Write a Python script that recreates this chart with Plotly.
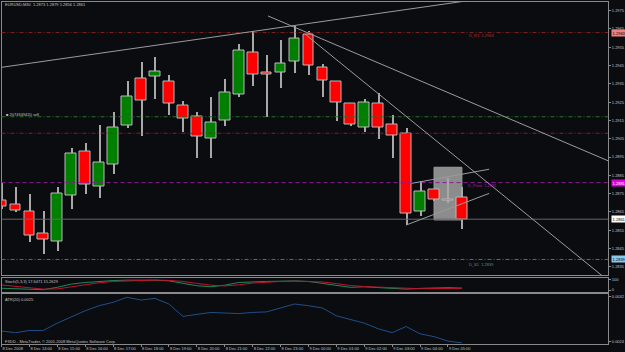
import plotly.graph_objects as go

# ---------------- data ----------------
bar_index = list(range(34))
open_ = [1.2871, 1.2869, 1.2865, 1.2853, 1.2849, 1.2874, 1.2898, 1.2879, 1.2891, 1.2912,
         1.2938, 1.2939, 1.2936, 1.2923, 1.2917, 1.2905, 1.2915, 1.2929, 1.2952, 1.2941,
         1.2941, 1.2947, 1.2962, 1.2944, 1.2936, 1.2924, 1.2911, 1.2924, 1.2913, 1.2908,
         1.2865, 1.2877, 1.2871, 1.2873]
high = [1.2881, 1.2879, 1.2875, 1.2866, 1.2879, 1.2900, 1.2903, 1.2913, 1.2920, 1.2937,
        1.2947, 1.2950, 1.2940, 1.2926, 1.2920, 1.2928, 1.2938, 1.2957, 1.2964, 1.2951,
        1.2959, 1.2967, 1.2964, 1.2946, 1.2937, 1.2925, 1.2927, 1.2930, 1.2918, 1.2911,
        1.2882, 1.2878, 1.2884, 1.2879]
low = [1.2867, 1.2865, 1.2849, 1.2842, 1.2844, 1.2867, 1.2875, 1.2873, 1.2886, 1.2911,
       1.2907, 1.2927, 1.2918, 1.2909, 1.2895, 1.2895, 1.2912, 1.2928, 1.2934, 1.2917,
       1.2933, 1.2941, 1.2940, 1.2928, 1.2915, 1.2912, 1.2909, 1.2905, 1.2895, 1.2858,
       1.2863, 1.2871, 1.2870, 1.2856]
close = [1.2868, 1.2866, 1.2852, 1.2850, 1.2875, 1.2897, 1.2880, 1.2892, 1.2911, 1.2928,
         1.2926, 1.2942, 1.2924, 1.2916, 1.2906, 1.2914, 1.2930, 1.2953, 1.2940, 1.2940,
         1.2946, 1.2960, 1.2945, 1.2937, 1.2925, 1.2913, 1.2925, 1.2911, 1.2907, 1.2864,
         1.2876, 1.2872, 1.2872, 1.2861]

stoch_main = [16, 10, 5, 3, 25, 55, 70, 80, 88, 92, 95, 92, 85, 65, 40, 30, 45, 70, 78, 80,
              82, 85, 80, 60, 40, 25, 30, 22, 18, 8, 15, 20, 22, 17.6471]
stoch_signal = [47, 35, 20, 8, 10, 30, 50, 68, 80, 86, 90, 92, 90, 80, 62, 45, 38, 48, 65, 76,
                80, 82, 82, 75, 60, 42, 32, 26, 22, 16, 12, 14, 18, 15.2629]
atr = [0.00259, 0.00256, 0.00260, 0.00260, 0.00273, 0.00284, 0.00295, 0.00304, 0.00310, 0.00319,
       0.00314, 0.00317, 0.00307, 0.00285, 0.00289, 0.00292, 0.00291, 0.00290, 0.00292, 0.00293,
       0.00300, 0.00307, 0.00304, 0.00300, 0.00286, 0.00279, 0.00273, 0.00263, 0.00256, 0.00267,
       0.00254, 0.00249, 0.00241, 0.00238]

time_tick_index = [0, 2, 4, 6, 8, 10, 12, 14, 16, 18, 20, 22, 24, 26, 28, 30, 32]
time_tick_text = ["8 Dec 2008", "8 Dec 14:00", "8 Dec 15:00", "8 Dec 16:00", "8 Dec 17:00",
                  "8 Dec 18:00", "8 Dec 19:00", "8 Dec 20:00", "8 Dec 21:00", "8 Dec 22:00",
                  "8 Dec 23:00", "9 Dec 00:00", "9 Dec 01:00", "9 Dec 02:00", "9 Dec 03:00",
                  "9 Dec 04:00", "9 Dec 05:00"]
price_ticks = [1.2835, 1.2845, 1.2855, 1.2865, 1.2875, 1.2885, 1.2895, 1.2905, 1.2915,
               1.2925, 1.2935, 1.2945, 1.2955, 1.2965, 1.2975]

level_r1 = 1.2963
level_order = 1.2917
level_sl = 1.2908
level_pivot = 1.2881
level_bid = 1.2861
level_s1 = 1.2839

# trend lines: (bar index, price) pairs
trend_lines = [
    ((-0.11, 1.29439), (33.58, 1.29806)),
    ((19.10, 1.29721), (45.00, 1.28880)),
    ((21.75, 1.29622), (45.00, 1.28180)),
    ((29.40, 1.28806), (34.95, 1.28883)),
    ((29.00, 1.28578), (34.95, 1.28751)),
]
rect_box = ((31.0, 1.28894), (33.0, 1.28606))

# ---------------- figure ----------------
W, H = 625, 352
BG = "#0a0c10"
FRAME = "#8a8a8a"
TXT = "#c4c4c4"
FONT = "Liberation Sans"
FS = 4
DASHDOT = "4px,2px,1px,2px"


def py(p):  # pixel row -> paper y
    return 1 - p / H


def px(p):
    return p / W


fig = go.Figure()

# wicks
fig.add_trace(go.Bar(
    x=bar_index, y=[h - l for h, l in zip(high, low)], base=low,
    width=0.075, marker=dict(color="#a8a8a8", line=dict(width=0)),
    xaxis="x", yaxis="y", showlegend=False, hoverinfo="skip"))
# bodies
body_base = [min(o, c) for o, c in zip(open_, close)]
body_h = [max(abs(c - o), 0.00004) for o, c in zip(open_, close)]
body_col = ["#008000" if c > o else "#ff0000" for o, c in zip(open_, close)]
fig.add_trace(go.Bar(
    x=bar_index, y=body_h, base=body_base, width=0.77,
    marker=dict(color=body_col, line=dict(width=1, color="#b8b8b8")),
    xaxis="x", yaxis="y", showlegend=False, hoverinfo="skip"))

# stochastic
fig.add_trace(go.Scatter(x=bar_index, y=stoch_main, mode="lines",
                         line=dict(color="#1f8a5c", width=1), xaxis="x2", yaxis="y2",
                         showlegend=False))
fig.add_trace(go.Scatter(x=bar_index, y=stoch_signal, mode="lines",
                         line=dict(color="#c0142c", width=1), xaxis="x2", yaxis="y2",
                         showlegend=False))
# ATR
fig.add_trace(go.Scatter(x=bar_index, y=atr, mode="lines",
                         line=dict(color="#1f4f8a", width=1), xaxis="x3", yaxis="y3",
                         showlegend=False))

shapes = []
shapes.append(dict(type="rect", xref="x", yref="y", layer="below",
                   x0=rect_box[0][0], x1=rect_box[1][0], y0=rect_box[0][1], y1=rect_box[1][1],
                   fillcolor="#8c8c8c", line=dict(color="#9a9a9a", width=1)))


def hline(y, color, dash, width=1):
    shapes.append(dict(type="line", xref="x domain", yref="y", x0=0, x1=1, y0=y, y1=y,
                       line=dict(color=color, dash=dash, width=width)))


hline(level_r1, "#862222", DASHDOT)
hline(level_order, "#2a702a", DASHDOT)
hline(level_sl, "#862222", DASHDOT)
hline(level_pivot, "#8e1c96", "4px,3px")
hline(level_bid, "#666666", "solid")
hline(level_s1, "#3a7896", DASHDOT)

for (a, b) in trend_lines:
    shapes.append(dict(type="line", xref="x", yref="y", x0=a[0], y0=a[1], x1=b[0], y1=b[1],
                       line=dict(color="#9c9c9c", width=1)))

annotations = []


def text(x, y, s, color=TXT, size=FS, anchor="left"):
    annotations.append(dict(x=x, y=y, xref="paper", yref="paper", text=s, showarrow=False,
                            xanchor=anchor, yanchor="middle",
                            font=dict(family=FONT, size=size, color=color)))


text(px(3), py(4.8), "EURUSD,M30  1.2873 1.2879 1.2856 1.2861")
text(px(3), py(281.5), "Stoch(5,3,3) 17.6471 15.2629")
text(px(3), py(299), "ATR(20) 0.0025")
text(px(3), py(341), "FXDD - MetaTrader, © 2001-2008 MetaQuotes Software Corp.")
text(px(4), py(114.8), "■ 2074949420 sell")
text(px(467), py(35.6), "D_R1  1.2963", color="#b03a3a")
text(px(466), py(185.5), "D_Pivot  1.2881", color="#b020b8")
text(px(467), py(264.5), "D_S1  1.2839", color="#4a90b0")


def tag(price, s, bg, fg="#000000"):
    annotations.append(dict(x=px(610.5), y=price, xref="paper", yref="y", text=s,
                            showarrow=False, xanchor="left", yanchor="middle",
                            bgcolor=bg, borderpad=0.6,
                            font=dict(family=FONT, size=FS, color=fg)))


tag(level_r1, "1.2963", "#f08080")
tag(level_pivot, "1.2881", "#e000e0", "#ffffff")
tag(level_bid, "1.2861", "#ffffff")
tag(level_s1, "1.2839", "#87c8f0")

xdom = [px(1.5), px(608)]
xr = [0, 43.47]
axis_common = dict(showgrid=False, zeroline=False, showline=True, linecolor=FRAME,
                   linewidth=1, mirror=True,
                   tickfont=dict(family=FONT, size=FS, color=TXT))

fig.update_layout(
    width=W, height=H, margin=dict(l=0, r=0, t=0, b=0),
    paper_bgcolor=BG, plot_bgcolor=BG, barmode="overlay", bargap=0,
    showlegend=False, shapes=shapes, annotations=annotations,
    xaxis=dict(domain=xdom, range=xr, anchor="y", showticklabels=False, ticks="",
               **axis_common),
    yaxis=dict(domain=[py(275), py(1.5)], range=[1.28305, 1.29800], anchor="x", side="right",
               tickvals=price_ticks, tickformat=".4f", ticks="outside", ticklen=2,
               tickcolor=FRAME, **axis_common),
    xaxis2=dict(domain=xdom, range=xr, anchor="y2", matches="x", showticklabels=False,
                ticks="", **axis_common),
    yaxis2=dict(domain=[py(292), py(278)], range=[-18.7, 112], anchor="x2", side="right",
                tickvals=[0, 100], ticktext=["0", "100"], ticks="outside", ticklen=2,
                tickcolor=FRAME, **axis_common),
    xaxis3=dict(domain=xdom, range=xr, anchor="y3", matches="x", tickvals=time_tick_index,
                ticktext=time_tick_text, ticks="outside", ticklen=2, tickcolor=FRAME,
                tickangle=0, ticklabelposition="outside right", **axis_common),
    yaxis3=dict(domain=[py(344), py(294)], range=[0.002359, 0.003248], anchor="x3",
                side="right", tickvals=[0.0024, 0.0032], ticktext=["0.0024", "0.0032"],
                ticks="outside", ticklen=2, tickcolor=FRAME, **axis_common),
)

fig.write_html("out.html")
